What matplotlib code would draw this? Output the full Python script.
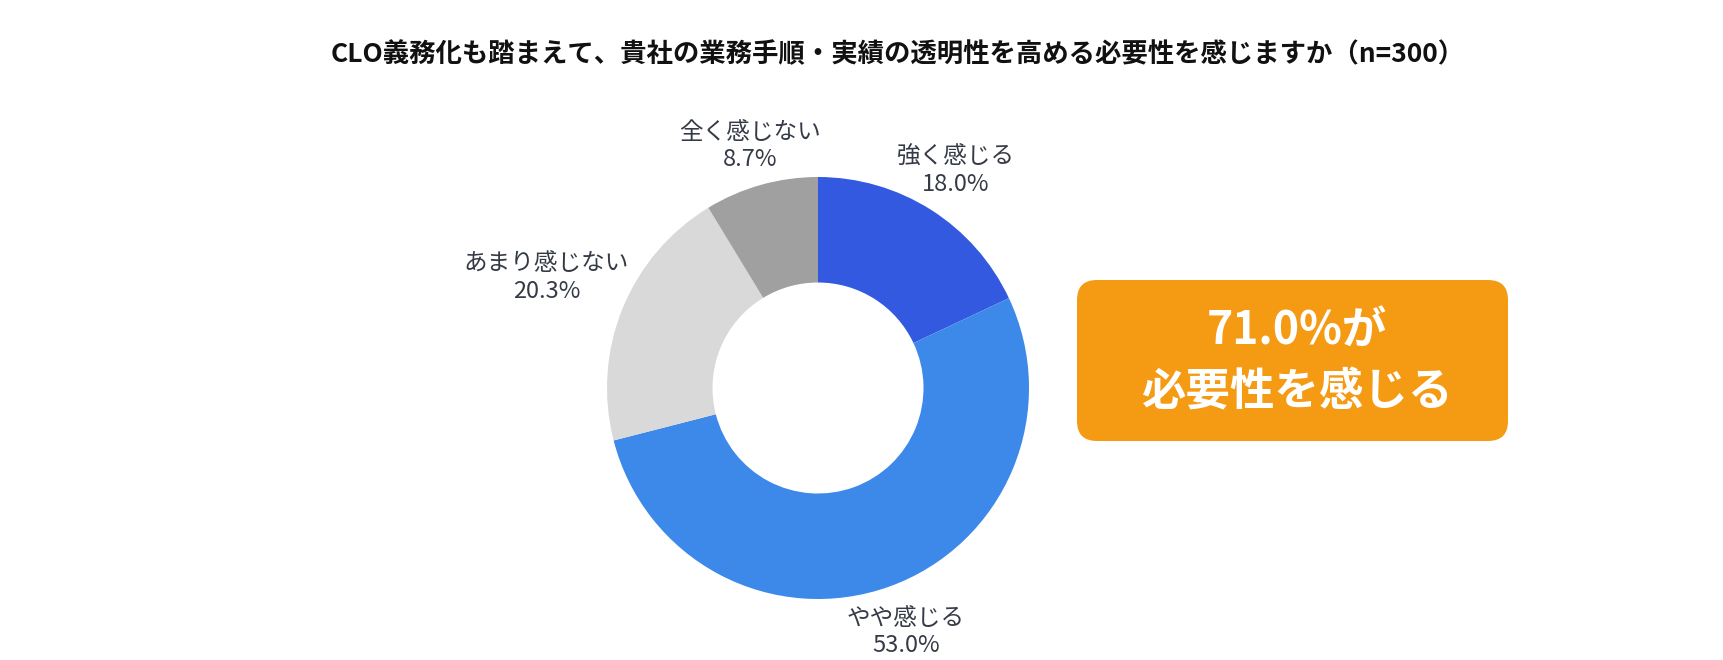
import numpy as np
import matplotlib.pyplot as plt
from matplotlib.patches import FancyBboxPatch

plt.rcParams['font.family'] = ['Noto Sans CJK JP', 'DejaVu Sans']

TITLE = "CLO義務化も踏まえて、貴社の業務手順・実績の透明性を高める必要性を感じますか（n=300）"
labels = ["強く感じる", "やや感じる", "あまり感じない", "全く感じない"]
values = [18.0, 53.0, 20.3, 8.7]
colors = ["#3359E0", "#3C89EA", "#D9D9D9", "#A0A0A0"]
callout_value = "71.0%が"
callout_text = "必要性を感じる"

W, H = 1723, 660
fig = plt.figure(figsize=(W / 100, H / 100), dpi=100)

# donut: centre (818, 388) px, outer radius 211 px
cx, cy, R = 818, 388, 211
ax = fig.add_axes([(cx - R) / W, (H - cy - R) / H, 2 * R / W, 2 * R / H])
wedges, _ = ax.pie(values, colors=colors, startangle=90, counterclock=False,
                   radius=1.0, wedgeprops=dict(width=0.5, linewidth=0))
ax.set_xlim(-1, 1)
ax.set_ylim(-1, 1)
ax.set_aspect('equal')
ax.axis('off')

label_dist = [1.22, 1.23, 1.39, 1.19]
for w, lab, val, d in zip(wedges, labels, values, label_dist):
    ang = np.deg2rad((w.theta1 + w.theta2) / 2)
    ax.text(d * np.cos(ang), d * np.sin(ang), f"{lab}\n{val:.1f}%",
            ha='center', va='center', fontsize=17, color='#353b46',
            linespacing=1.25, clip_on=False)

# overlay in pixel coords for title and callout box
ov = fig.add_axes([0, 0, 1, 1])
ov.set_xlim(0, W)
ov.set_ylim(H, 0)
ov.axis('off')
ov.patch.set_alpha(0)

ov.text(898, 55, TITLE, ha='center', va='center', fontsize=19,
        fontweight='bold', color='#111111')

box = FancyBboxPatch((1077, 280), 431, 161,
                     boxstyle="round,pad=0,rounding_size=20",
                     facecolor="#F59A13", edgecolor='none')
ov.add_patch(box)
ov.text(1297, 332, callout_value, ha='center', va='center', fontsize=32,
        fontweight='bold', color='white')
ov.text(1297, 393, callout_text, ha='center', va='center', fontsize=32,
        fontweight='bold', color='white')

fig.savefig("out.png", dpi=100)
